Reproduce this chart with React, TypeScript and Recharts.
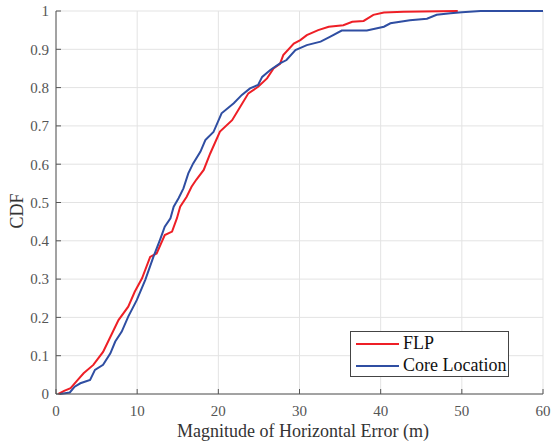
import { LineChart, Line, XAxis, YAxis, CartesianGrid } from 'recharts'

const xTicks = [0, 10, 20, 30, 40, 50, 60]
const yTicks = [0, 0.1, 0.2, 0.3, 0.4, 0.5, 0.6, 0.7, 0.8, 0.9, 1]

// FLP error samples (m) and their CDF
const flpError = [
  0.3, 1.0, 1.8, 2.6, 3.4, 4.6, 5.8, 6.9, 7.7, 8.9, 9.7, 10.6, 11.6, 12.4, 13.4, 14.3, 14.9, 15.3, 16.1, 16.7,
  17.3, 18.2, 19.0, 20.2, 21.7, 22.7, 23.7, 24.9, 26.0, 26.8, 27.6, 28.0, 29.3, 30.1, 30.9, 32.3, 33.6, 35.4,
  36.5, 37.9, 39.1, 40.4, 42.8, 49.5,
]
const flpCdf = [
  0, 0.008, 0.015, 0.035, 0.054, 0.076, 0.11, 0.158, 0.193, 0.228, 0.267, 0.302, 0.358, 0.367, 0.415, 0.424,
  0.459, 0.489, 0.515, 0.541, 0.56, 0.585, 0.628, 0.685, 0.715, 0.75, 0.785, 0.802, 0.824, 0.85, 0.862, 0.885,
  0.915, 0.924, 0.937, 0.95, 0.959, 0.963, 0.972, 0.974, 0.99, 0.996, 0.998, 1.0,
]

// Core Location error samples (m) and their CDF
const coreError = [
  0.5, 1.7, 2.3, 3.0, 4.2, 4.8, 5.8, 6.7, 7.3, 8.1, 8.9, 9.95, 11.0, 12.0, 12.8, 13.4, 14.1, 14.5, 15.1, 15.7,
  16.3, 16.9, 17.8, 18.4, 19.4, 20.4, 21.9, 22.9, 23.9, 24.9, 25.4, 26.4, 27.6, 28.4, 29.5, 30.9, 32.6, 33.8,
  35.2, 38.3, 40.4, 41.2, 43.6, 45.7, 46.9, 48.6, 50.0, 52.3, 60,
]
const coreCdf = [
  0, 0.004, 0.019, 0.028, 0.037, 0.063, 0.076, 0.106, 0.137, 0.163, 0.202, 0.245, 0.298, 0.358, 0.402, 0.437,
  0.459, 0.489, 0.511, 0.537, 0.576, 0.602, 0.633, 0.663, 0.684, 0.733, 0.759, 0.781, 0.798, 0.807, 0.828, 0.846,
  0.863, 0.872, 0.898, 0.911, 0.92, 0.933, 0.949, 0.949, 0.959, 0.968, 0.976, 0.98, 0.99, 0.994, 0.997, 1.0, 1.0,
]

const flpData = flpError.map((x, i) => ({ x, y: flpCdf[i] }))
const coreData = coreError.map((x, i) => ({ x, y: coreCdf[i] }))

const FONT = '"Liberation Serif", "Times New Roman", serif'
const AXIS = '#555'
const RED = '#ee1f26'
const BLUE = '#2f4ea2'

export default function App() {
  return (
    <div style={{ position: 'absolute', left: 0, top: 0, width: 551, height: 442, fontFamily: FONT }}>
      <LineChart width={551} height={442} margin={{ top: 11, right: 8, left: 0, bottom: 0 }}>
        <CartesianGrid stroke="#e3e3e3" strokeWidth={1} />
        <XAxis
          dataKey="x"
          type="number"
          domain={[0, 60]}
          ticks={xTicks}
          allowDataOverflow
          height={48}
          stroke={AXIS}
          tickSize={-5}
          tickMargin={16}
          tick={{ fill: '#555', fontSize: 15, fontFamily: FONT }}
          label={{
            content: () => (
              <text x={303} y={431} textAnchor="middle" dominantBaseline="central" fill="#333" fontSize={18} fontFamily={FONT}>
                Magnitude of Horizontal Error (m)
              </text>
            ),
          }}
        />
        <XAxis
          xAxisId="top"
          orientation="top"
          type="number"
          domain={[0, 60]}
          ticks={xTicks}
          height={0}
          stroke="#777"
          tickSize={-5}
          tick={false}
        />
        <YAxis
          type="number"
          domain={[0, 1]}
          ticks={yTicks}
          width={56}
          stroke={AXIS}
          tickSize={-5}
          tickMargin={12}
          tick={{ fill: '#555', fontSize: 15, fontFamily: FONT }}
          label={{
            content: () => (
              <text
                x={17}
                y={211}
                transform="rotate(-90 17 211)"
                textAnchor="middle"
                dominantBaseline="central"
                fill="#333"
                fontSize={18}
                fontFamily={FONT}
              >
                CDF
              </text>
            ),
          }}
        />
        <YAxis
          yAxisId="right"
          orientation="right"
          type="number"
          domain={[0, 1]}
          ticks={yTicks}
          width={0}
          stroke="#777"
          tickSize={-5}
          tick={false}
        />
        <Line
          data={flpData}
          dataKey="y"
          name="FLP"
          type="linear"
          stroke={RED}
          strokeWidth={2}
          dot={false}
          activeDot={false}
          isAnimationActive={false}
        />
        <Line
          data={coreData}
          dataKey="y"
          name="Core Location"
          type="linear"
          stroke={BLUE}
          strokeWidth={2}
          dot={false}
          activeDot={false}
          isAnimationActive={false}
        />
      </LineChart>
      <div
        style={{
          position: 'absolute',
          left: 350,
          top: 331,
          width: 157,
          height: 44,
          border: '1px solid #444',
          background: '#fff',
          fontSize: 18,
          color: '#111',
          lineHeight: '21px',
          boxSizing: 'content-box',
        }}
      >
        {[
          { name: 'FLP', color: RED },
          { name: 'Core Location', color: BLUE },
        ].map((s) => (
          <div key={s.name} style={{ display: 'flex', alignItems: 'center', height: 21, marginTop: 1 }}>
            <span style={{ display: 'inline-block', width: 43, height: 2, background: s.color, marginLeft: 5, marginRight: 4 }} />
            <span>{s.name}</span>
          </div>
        ))}
      </div>
    </div>
  )
}
